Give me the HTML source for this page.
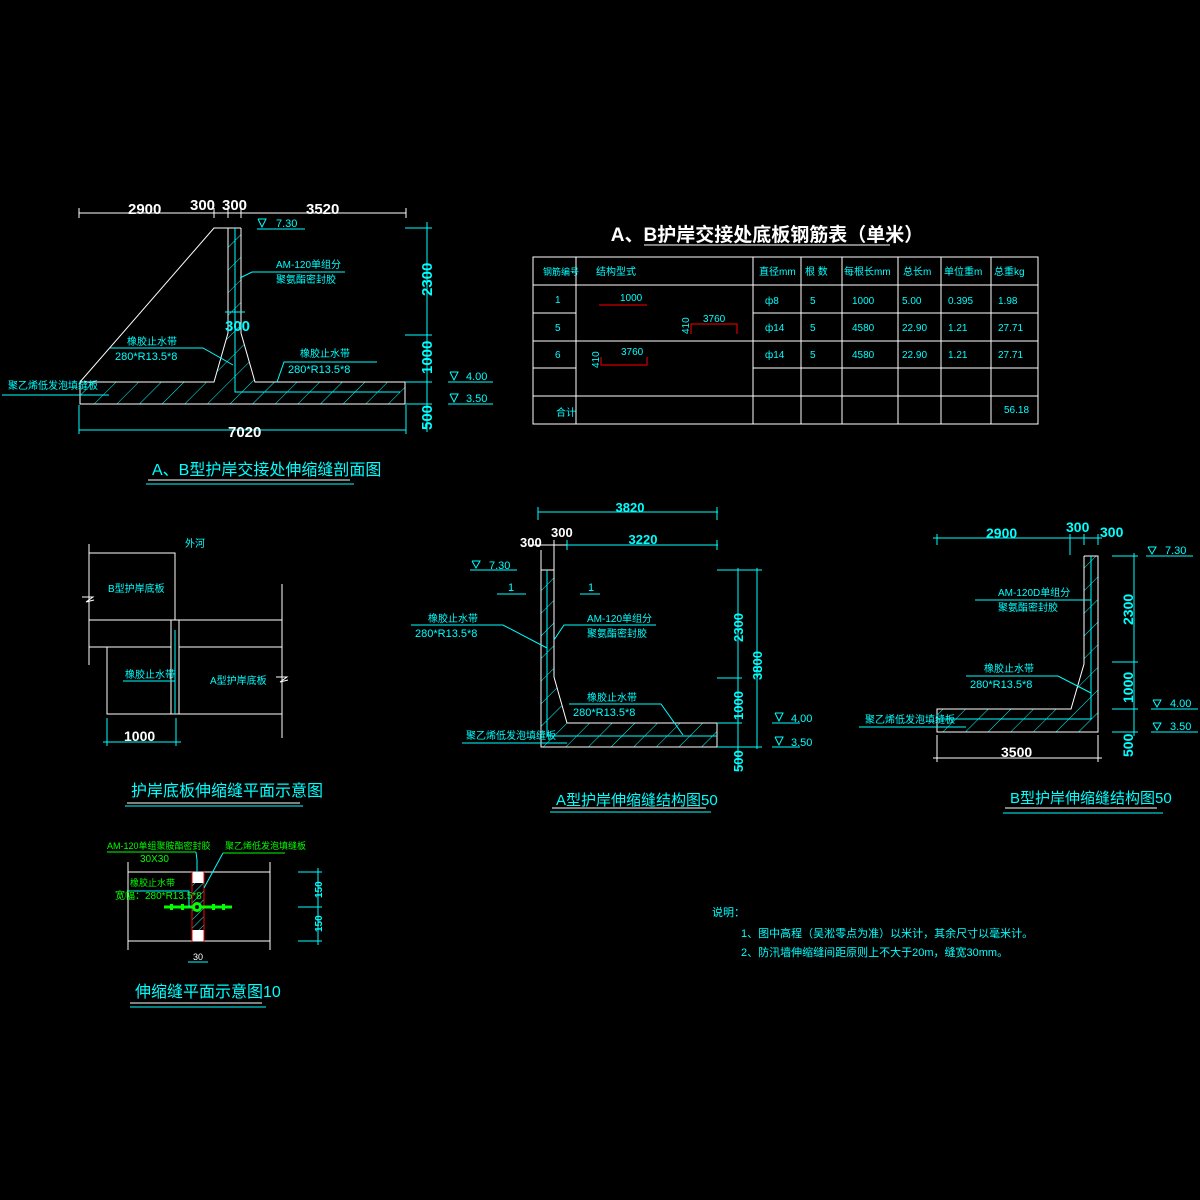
<!DOCTYPE html>
<html><head><meta charset="utf-8"><style>
html,body{margin:0;padding:0;background:#000;}
svg{display:block;}
text{font-family:"Liberation Sans","Noto Sans CJK SC",sans-serif;}
.c{fill:#00ffff;}
.w{fill:#fff;}
.g{fill:#00ff00;}
</style></head><body>
<svg width="1200" height="1200" viewBox="0 0 1200 1200" xmlns="http://www.w3.org/2000/svg">
<defs>
<pattern id="h" patternUnits="userSpaceOnUse" width="16" height="16" patternTransform="rotate(45)">
<line x1="0" y1="0" x2="0" y2="16" stroke="#00ffff" stroke-width="1"/>
</pattern>
<pattern id="h2" patternUnits="userSpaceOnUse" width="6" height="6" patternTransform="rotate(45)">
<line x1="0" y1="0" x2="0" y2="6" stroke="#00ffff" stroke-width="1"/>
</pattern>
</defs>
<rect width="1200" height="1200" fill="#000"/>

<!-- ===== Drawing 1 ===== -->
<g fill="none" stroke-width="1">
<polygon points="228,228 241,228 241,333 255,382 405,382 405,404 80,404 80,382 214,382 228,333" fill="url(#h)" stroke="none"/>
<g stroke="#fff">
<line x1="79" y1="213" x2="406" y2="213"/>
<line x1="79" y1="208" x2="79" y2="218"/><line x1="214" y1="208" x2="214" y2="218"/><line x1="228" y1="208" x2="228" y2="218"/><line x1="241" y1="208" x2="241" y2="218"/><line x1="406" y1="208" x2="406" y2="218"/>
<polyline points="80,382 214,228 241,228"/>
<polyline points="228,228 228,333 214,382 80,382 80,404 405,404 405,382 255,382 241,333 241,228"/>
</g>
<g stroke="#00ffff">
<polyline points="235,228 235,392 400,392"/>
<line x1="427" y1="222" x2="427" y2="432"/>
<line x1="405" y1="228" x2="432" y2="228"/><line x1="405" y1="335" x2="432" y2="335"/><line x1="405" y1="382" x2="432" y2="382"/><line x1="405" y1="404" x2="432" y2="404"/>
<line x1="79" y1="430" x2="406" y2="430"/><line x1="79" y1="405" x2="79" y2="434"/><line x1="406" y1="405" x2="406" y2="434"/>
<line x1="225" y1="312" x2="245" y2="312"/>
<line x1="257" y1="229" x2="305" y2="229"/><polyline points="258,219 266,219 262,227 258,219"/>
<line x1="448" y1="382" x2="493" y2="382"/><polyline points="450,372 458,372 454,380 450,372"/>
<line x1="448" y1="404" x2="493" y2="404"/><polyline points="450,394 458,394 454,402 450,394"/>
<polyline points="240,278 252,272 345,272"/>
<polyline points="110,348 203,348 233,365"/>
<polyline points="277,382 284,362 377,362"/>
<line x1="2" y1="395" x2="109" y2="395"/>
<line x1="146" y1="484" x2="354" y2="484"/>
</g>
<line x1="148" y1="480" x2="350" y2="480" stroke="#fff"/>
</g>
<text x="128" y="214" class="w" font-size="15" font-weight="bold">2900</text>
<text x="190" y="210" class="w" font-size="15" font-weight="bold">300</text>
<text x="222" y="210" class="w" font-size="15" font-weight="bold">300</text>
<text x="306" y="214" class="w" font-size="15" font-weight="bold">3520</text>
<text x="225" y="331" class="c" font-size="15" font-weight="bold">300</text>
<text x="228" y="437" class="w" font-size="15" font-weight="bold">7020</text>
<text x="276" y="227" class="c" font-size="11">7.30</text>
<text x="466" y="380" class="c" font-size="11">4.00</text>
<text x="466" y="402" class="c" font-size="11">3.50</text>
<text x="276" y="268" class="c" font-size="10">AM-120单组分</text>
<text x="276" y="283" class="c" font-size="10">聚氨酯密封胶</text>
<text x="127" y="345" class="c" font-size="10">橡胶止水带</text>
<text x="115" y="360" class="c" font-size="11">280*R13.5*8</text>
<text x="300" y="357" class="c" font-size="10">橡胶止水带</text>
<text x="288" y="373" class="c" font-size="11">280*R13.5*8</text>
<text x="8" y="389" class="c" font-size="10">聚乙烯低发泡填缝板</text>
<text x="432" y="296" class="c" font-size="15" font-weight="bold" transform="rotate(-90 432 296)">2300</text>
<text x="432" y="374" class="c" font-size="15" font-weight="bold" transform="rotate(-90 432 374)">1000</text>
<text x="432" y="430" class="c" font-size="15" font-weight="bold" transform="rotate(-90 432 430)">500</text>
<text x="152" y="475" class="c" font-size="16">A、B型护岸交接处伸缩缝剖面图</text>

<!-- ===== Table ===== -->
<text x="767" y="241" class="w" font-size="19" font-weight="bold" text-anchor="middle">A、B护岸交接处底板钢筋表（单米）</text>
<line x1="644" y1="245" x2="890" y2="245" stroke="#fff"/>
<g stroke="#fff" fill="none">
<rect x="533" y="257" width="505" height="167"/>
<line x1="533" y1="285" x2="1038" y2="285"/>
<line x1="533" y1="313" x2="576" y2="313"/><line x1="753" y1="313" x2="1038" y2="313"/>
<line x1="533" y1="341" x2="1038" y2="341"/>
<line x1="533" y1="368" x2="576" y2="368"/><line x1="753" y1="368" x2="1038" y2="368"/>
<line x1="533" y1="396" x2="1038" y2="396"/>
<line x1="576" y1="257" x2="576" y2="424"/><line x1="753" y1="257" x2="753" y2="424"/><line x1="801" y1="257" x2="801" y2="424"/><line x1="842" y1="257" x2="842" y2="424"/><line x1="898" y1="257" x2="898" y2="424"/><line x1="941" y1="257" x2="941" y2="424"/><line x1="991" y1="257" x2="991" y2="424"/>
</g>
<g stroke="#ff0000" fill="none">
<line x1="599" y1="305" x2="647" y2="305"/>
<polyline points="691,334 691,324 737,324 737,334"/>
<polyline points="601,357 601,365 647,365 647,357"/>
</g>
<g class="c" font-size="10">
<text x="543" y="275" font-size="9">钢筋编号</text><text x="596" y="275">结构型式</text><text x="759" y="275">直径mm</text><text x="805" y="275">根 数</text><text x="844" y="275">每根长mm</text><text x="903" y="275">总长m</text><text x="944" y="275">单位重m</text><text x="994" y="275">总重kg</text>
<text x="555" y="303">1</text><text x="555" y="331">5</text><text x="555" y="358">6</text><text x="556" y="416">合计</text>
<text x="620" y="301">1000</text><text x="703" y="322">3760</text><text x="621" y="355">3760</text>
<text x="689" y="334" transform="rotate(-90 689 334)">410</text>
<text x="599" y="368" transform="rotate(-90 599 368)">410</text>
<text x="765" y="304">ф8</text><text x="765" y="331">ф14</text><text x="765" y="358">ф14</text>
<text x="810" y="304">5</text><text x="810" y="331">5</text><text x="810" y="358">5</text>
<text x="852" y="304">1000</text><text x="852" y="331">4580</text><text x="852" y="358">4580</text>
<text x="902" y="304">5.00</text><text x="902" y="331">22.90</text><text x="902" y="358">22.90</text>
<text x="948" y="304">0.395</text><text x="948" y="331">1.21</text><text x="948" y="358">1.21</text>
<text x="998" y="304">1.98</text><text x="998" y="331">27.71</text><text x="998" y="358">27.71</text>
<text x="1004" y="413">56.18</text>
</g>

<!-- ===== Drawing A ===== -->
<polygon points="541,570 554,570 554,677 567,723 717,723 717,747 541,747" fill="url(#h)"/>
<g fill="none">
<g stroke="#fff">
<polyline points="541,570 554,570 554,677 567,723 717,723 717,747 541,747 541,570"/>
<line x1="541" y1="550" x2="541" y2="570"/><line x1="554" y1="540" x2="554" y2="570"/>
<line x1="530" y1="545" x2="567" y2="545"/>
</g>
<g stroke="#00ffff">
<polyline points="547,570 547,736 717,736"/>
<line x1="538" y1="512" x2="718" y2="512"/><line x1="538" y1="507" x2="538" y2="520"/><line x1="717" y1="507" x2="717" y2="520"/>
<line x1="567" y1="545" x2="718" y2="545"/><line x1="567" y1="540" x2="567" y2="550"/><line x1="717" y1="540" x2="717" y2="550"/>
<line x1="738" y1="568" x2="738" y2="770"/><line x1="757" y1="568" x2="757" y2="749"/>
<line x1="717" y1="570" x2="762" y2="570"/><line x1="717" y1="678" x2="742" y2="678"/><line x1="717" y1="723" x2="742" y2="723"/><line x1="717" y1="747" x2="762" y2="747"/>
<line x1="470" y1="570" x2="517" y2="570"/><polyline points="472,561 480,561 476,568 472,561"/>
<line x1="497" y1="594" x2="526" y2="594"/><line x1="580" y1="594" x2="600" y2="594"/>
<polyline points="411,625 503,625 547,648"/>
<polyline points="554,640 564,625 656,625"/>
<polyline points="683,735 661,704 569,704"/>
<line x1="462" y1="743" x2="567" y2="743"/>
<line x1="772" y1="723" x2="800" y2="723"/><polyline points="775,713 783,713 779,721 775,713"/>
<line x1="772" y1="747" x2="800" y2="747"/><polyline points="775,737 783,737 779,745 775,737"/>
<line x1="550" y1="812" x2="711" y2="812"/>
</g>
<line x1="552" y1="808" x2="706" y2="808" stroke="#fff"/>
</g>
<text x="630" y="512" class="c" font-size="13" font-weight="bold" text-anchor="middle">3820</text>
<text x="520" y="547" class="w" font-size="13" font-weight="bold">300</text>
<text x="551" y="537" class="w" font-size="13" font-weight="bold">300</text>
<text x="643" y="544" class="c" font-size="13" font-weight="bold" text-anchor="middle">3220</text>
<text x="489" y="569" class="c" font-size="11">7.30</text>
<text x="508" y="591" class="c" font-size="11">1</text><text x="588" y="591" class="c" font-size="11">1</text>
<text x="428" y="622" class="c" font-size="10">橡胶止水带</text>
<text x="415" y="637" class="c" font-size="11">280*R13.5*8</text>
<text x="587" y="622" class="c" font-size="10">AM-120单组分</text>
<text x="587" y="637" class="c" font-size="10">聚氨酯密封胶</text>
<text x="587" y="701" class="c" font-size="10">橡胶止水带</text>
<text x="573" y="716" class="c" font-size="11">280*R13.5*8</text>
<text x="466" y="739" class="c" font-size="10">聚乙烯低发泡填缝板</text>
<text x="743" y="642" class="c" font-size="13" font-weight="bold" transform="rotate(-90 743 642)">2300</text>
<text x="743" y="720" class="c" font-size="13" font-weight="bold" transform="rotate(-90 743 720)">1000</text>
<text x="743" y="772" class="c" font-size="13" font-weight="bold" transform="rotate(-90 743 772)">500</text>
<text x="762" y="680" class="c" font-size="13" font-weight="bold" transform="rotate(-90 762 680)">3800</text>
<text x="791" y="722" class="c" font-size="11">4.00</text>
<text x="791" y="746" class="c" font-size="11">3.50</text>
<text x="556" y="805" class="c" font-size="15">A型护岸伸缩缝结构图50</text>

<!-- ===== Drawing B ===== -->
<polygon points="1084,556 1098,556 1098,732 937,732 937,709 1071,709 1084,664" fill="url(#h)"/>
<g fill="none">
<g stroke="#fff">
<polyline points="1084,556 1098,556 1098,732 937,732 937,709 1071,709 1084,664 1084,556"/>
<line x1="937" y1="735" x2="937" y2="762"/><line x1="1098" y1="735" x2="1098" y2="762"/>
<line x1="933" y1="758" x2="1102" y2="758"/>
</g>
<g stroke="#00ffff">
<polyline points="1091,556 1091,719 937,719"/>
<line x1="933" y1="538" x2="1102" y2="538"/>
<line x1="937" y1="534" x2="937" y2="545"/><line x1="1070" y1="534" x2="1070" y2="555"/><line x1="1084" y1="534" x2="1084" y2="545"/><line x1="1098" y1="534" x2="1098" y2="545"/>
<line x1="1134" y1="553" x2="1134" y2="736"/>
<line x1="1112" y1="556" x2="1138" y2="556"/><line x1="1112" y1="662" x2="1138" y2="662"/><line x1="1112" y1="709" x2="1138" y2="709"/><line x1="1112" y1="732" x2="1138" y2="732"/>
<line x1="1146" y1="556" x2="1193" y2="556"/><polyline points="1148,547 1156,547 1152,554 1148,547"/>
<line x1="1151" y1="709" x2="1198" y2="709"/><polyline points="1153,700 1161,700 1157,707 1153,700"/>
<line x1="1151" y1="732" x2="1198" y2="732"/><polyline points="1153,723 1161,723 1157,730 1153,723"/>
<line x1="975" y1="600" x2="1091" y2="600"/>
<polyline points="966,676 1058,676 1091,693"/>
<line x1="859" y1="727" x2="966" y2="727"/>
<line x1="1003" y1="813" x2="1163" y2="813"/>
</g>
<line x1="1005" y1="808" x2="1157" y2="808" stroke="#fff"/>
</g>
<text x="986" y="538" class="c" font-size="14" font-weight="bold">2900</text>
<text x="1066" y="532" class="c" font-size="14" font-weight="bold">300</text>
<text x="1100" y="537" class="c" font-size="14" font-weight="bold">300</text>
<text x="1001" y="757" class="w" font-size="14" font-weight="bold">3500</text>
<text x="1165" y="554" class="c" font-size="11">7.30</text>
<text x="1170" y="707" class="c" font-size="11">4.00</text>
<text x="1170" y="730" class="c" font-size="11">3.50</text>
<text x="998" y="596" class="c" font-size="10">AM-120D单组分</text>
<text x="998" y="611" class="c" font-size="10">聚氨酯密封胶</text>
<text x="984" y="672" class="c" font-size="10">橡胶止水带</text>
<text x="970" y="688" class="c" font-size="11">280*R13.5*8</text>
<text x="865" y="723" class="c" font-size="10">聚乙烯低发泡填缝板</text>
<text x="1133" y="625" class="c" font-size="14" font-weight="bold" transform="rotate(-90 1133 625)">2300</text>
<text x="1133" y="703" class="c" font-size="14" font-weight="bold" transform="rotate(-90 1133 703)">1000</text>
<text x="1133" y="757" class="c" font-size="14" font-weight="bold" transform="rotate(-90 1133 757)">500</text>
<text x="1010" y="803" class="c" font-size="15">B型护岸伸缩缝结构图50</text>

<!-- ===== Plan drawing ===== -->
<g fill="none" stroke="#fff">
<polyline points="89,544 89,665"/>
<polyline points="89,553 175,553 175,620"/>
<line x1="89" y1="620" x2="282" y2="620"/>
<line x1="89" y1="647" x2="171" y2="647"/><line x1="179" y1="647" x2="282" y2="647"/>
<line x1="171" y1="620" x2="171" y2="714"/><line x1="179" y1="620" x2="179" y2="714"/>
<polyline points="107,647 107,714 282,714"/>
<line x1="282" y1="584" x2="282" y2="738"/>
<polyline points="82,597 93,597 86,602 94,600"/>
<polyline points="276,677 287,677 280,682 288,680"/>
</g>
<g stroke="#00ffff" fill="none">
<line x1="175" y1="630" x2="175" y2="714"/>
<line x1="123" y1="681" x2="175" y2="681"/>
<line x1="103" y1="742" x2="181" y2="742"/>
<line x1="107" y1="718" x2="107" y2="746"/><line x1="176" y1="718" x2="176" y2="746"/>
<line x1="125" y1="806" x2="303" y2="806"/>
</g>
<line x1="127" y1="803" x2="300" y2="803" stroke="#fff"/>
<text x="185" y="547" class="c" font-size="10">外河</text>
<text x="108" y="592" class="c" font-size="10">B型护岸底板</text>
<text x="125" y="678" class="c" font-size="10">橡胶止水带</text>
<text x="210" y="684" class="c" font-size="10">A型护岸底板</text>
<text x="124" y="741" class="w" font-size="14" font-weight="bold">1000</text>
<text x="131" y="796" class="c" font-size="16">护岸底板伸缩缝平面示意图</text>

<!-- ===== Small joint drawing ===== -->
<rect x="192" y="883" width="12" height="47" fill="url(#h2)"/>
<rect x="192" y="872" width="12" height="11" fill="#fff"/>
<rect x="192" y="930" width="12" height="11" fill="#fff"/>
<g fill="none" stroke="#fff">
<line x1="128" y1="872" x2="270" y2="872"/><line x1="128" y1="941" x2="270" y2="941"/>
<line x1="128" y1="862" x2="128" y2="950"/><line x1="270" y1="862" x2="270" y2="950"/>
<line x1="130" y1="1003" x2="262" y2="1003"/>
</g>
<g stroke="#ff0000"><line x1="192" y1="871" x2="192" y2="942"/><line x1="204" y1="871" x2="204" y2="942"/></g>
<g stroke="#00ff00" fill="none">
<line x1="164" y1="907" x2="232" y2="907" stroke-width="3"/>
<line x1="107" y1="852" x2="196" y2="852"/>
<line x1="223" y1="853" x2="285" y2="853"/>
</g>
<circle cx="197" cy="907" r="5" fill="#00ff00"/>
<circle cx="197" cy="907" r="2" fill="#000"/>
<g fill="#00ff00"><rect x="170" y="904" width="3" height="6"/><rect x="181" y="904" width="3" height="6"/><rect x="212" y="904" width="3" height="6"/><rect x="222" y="904" width="3" height="6"/></g>
<g stroke="#00ffff" fill="none">
<polyline points="197,872 197,860 196,852"/>
<line x1="204" y1="888" x2="223" y2="853"/>
<polyline points="128,891 189,891 189,907"/>
<line x1="318" y1="868" x2="318" y2="945"/>
<line x1="298" y1="872" x2="322" y2="872"/><line x1="298" y1="907" x2="322" y2="907"/><line x1="298" y1="941" x2="322" y2="941"/>
<line x1="188" y1="962" x2="208" y2="962"/>
<line x1="130" y1="1007" x2="266" y2="1007"/>
</g>
<text x="107" y="849" class="g" font-size="9">AM-120单组聚胺酯密封胶</text>
<text x="140" y="862" class="g" font-size="10">30X30</text>
<text x="225" y="849" class="g" font-size="9">聚乙烯低发泡填缝板</text>
<text x="130" y="886" class="g" font-size="9">橡胶止水带</text>
<text x="115" y="899" class="g" font-size="10">宽幅：280*R13.5*8</text>
<text x="193" y="960" class="w" font-size="9">30</text>
<text x="322" y="898" class="c" font-size="10" font-weight="bold" transform="rotate(-90 322 898)">150</text>
<text x="322" y="932" class="c" font-size="10" font-weight="bold" transform="rotate(-90 322 932)">150</text>
<text x="135" y="997" class="c" font-size="16">伸缩缝平面示意图10</text>

<!-- ===== Notes ===== -->
<text x="712" y="916" class="c" font-size="11">说明：</text>
<text x="741" y="937" class="c" font-size="11">1、图中高程（吴淞零点为准）以米计，其余尺寸以毫米计。</text>
<text x="741" y="956" class="c" font-size="11">2、防汛墙伸缩缝间距原则上不大于20m，缝宽30mm。</text>
</svg>
</body></html>
